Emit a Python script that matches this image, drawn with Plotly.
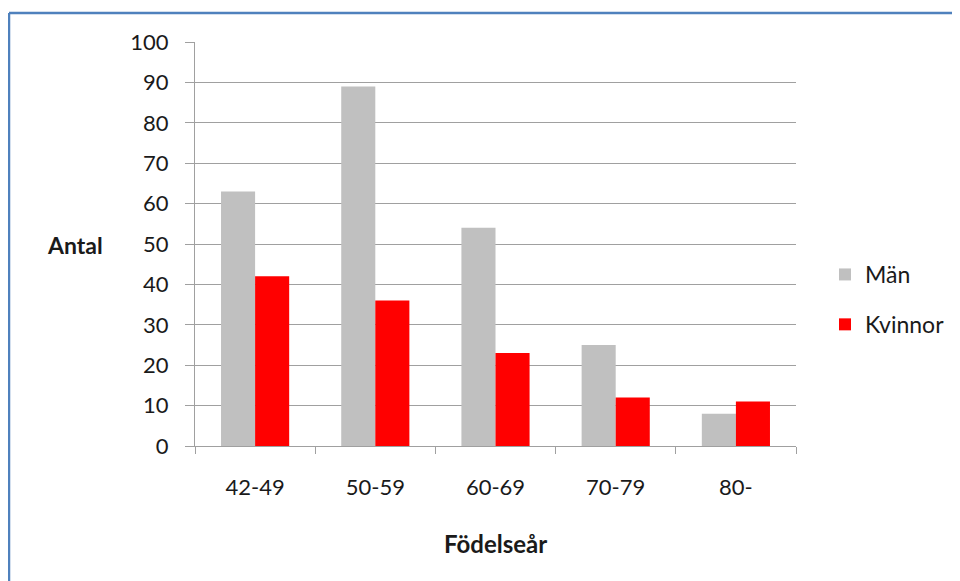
import plotly.graph_objects as go

categories = ["42-49", "50-59", "60-69", "70-79", "80-"]
man_values = [63, 89, 54, 25, 8]
kvinnor_values = [42, 36, 23, 12, 11]
y_ticks = [0, 10, 20, 30, 40, 50, 60, 70, 80, 90, 100]

# page has an 8px body margin, so the figure starts at (8, 8)
W, H = 952, 573
L, R, T, B = 187, 788, 34, 438


def px(x):
    return (x - L) / (R - L)


def py(y):
    return (B - y) / (B - T)


FONT = "Lato, 'Open Sans', sans-serif"
GRID = "#A0A0A0"

fig = go.Figure()
fig.add_trace(go.Bar(x=categories, y=man_values, name="Män",
                     marker=dict(color="#C0C0C0", line=dict(width=0)),
                     legendgroup="a"))
fig.add_trace(go.Bar(x=categories, y=kvinnor_values, name="Kvinnor",
                     marker=dict(color="#FF0000", line=dict(width=0)),
                     legendgroup="b"))

fig.update_layout(
    width=W, height=H,
    margin=dict(l=L, r=W - R, t=T, b=H - B, pad=0, autoexpand=False),
    paper_bgcolor="white", plot_bgcolor="white",
    barmode="group", bargap=0.433, bargroupgap=0,
    font=dict(family=FONT, size=22, color="#1a1a1a"),
    showlegend=True,
    legend=dict(x=px(817), y=py(245), xanchor="left", yanchor="top",
                font=dict(size=23), tracegroupgap=17,
                bgcolor="rgba(0,0,0,0)", borderwidth=0),
    xaxis=dict(type="category", tickson="boundaries", ticks="outside",
               ticklen=7, tickcolor=GRID, tickwidth=1,
               showline=True, linecolor=GRID, linewidth=1,
               showgrid=False, ticklabelstandoff=22,
               tickfont=dict(size=22)),
    yaxis=dict(range=[0, 100], tickvals=y_ticks, ticks="outside",
               ticklen=9, tickcolor=GRID, tickwidth=1,
               showline=True, linecolor=GRID, linewidth=1,
               showgrid=True, gridcolor=GRID, gridwidth=1,
               zeroline=False, ticklabelstandoff=12,
               tickfont=dict(size=22)),
    shapes=[
        dict(type="line", xref="paper", yref="paper",
             x0=px(1), x1=px(W), y0=py(5), y1=py(5),
             line=dict(color="#4F81BD", width=2.5)),
        dict(type="line", xref="paper", yref="paper",
             x0=px(1), x1=px(1), y0=py(5), y1=py(H),
             line=dict(color="#4F81BD", width=2.5)),
    ],
    annotations=[
        dict(text="<b>Antal</b>", xref="paper", yref="paper",
             x=px(67), y=py(237), showarrow=False,
             xanchor="center", yanchor="middle", font=dict(size=23)),
        dict(text="<b>Födelseår</b>", xref="paper", yref="paper",
             x=px(487), y=py(535), showarrow=False,
             xanchor="center", yanchor="middle", font=dict(size=24)),
    ],
)

fig.write_html("out.html")
